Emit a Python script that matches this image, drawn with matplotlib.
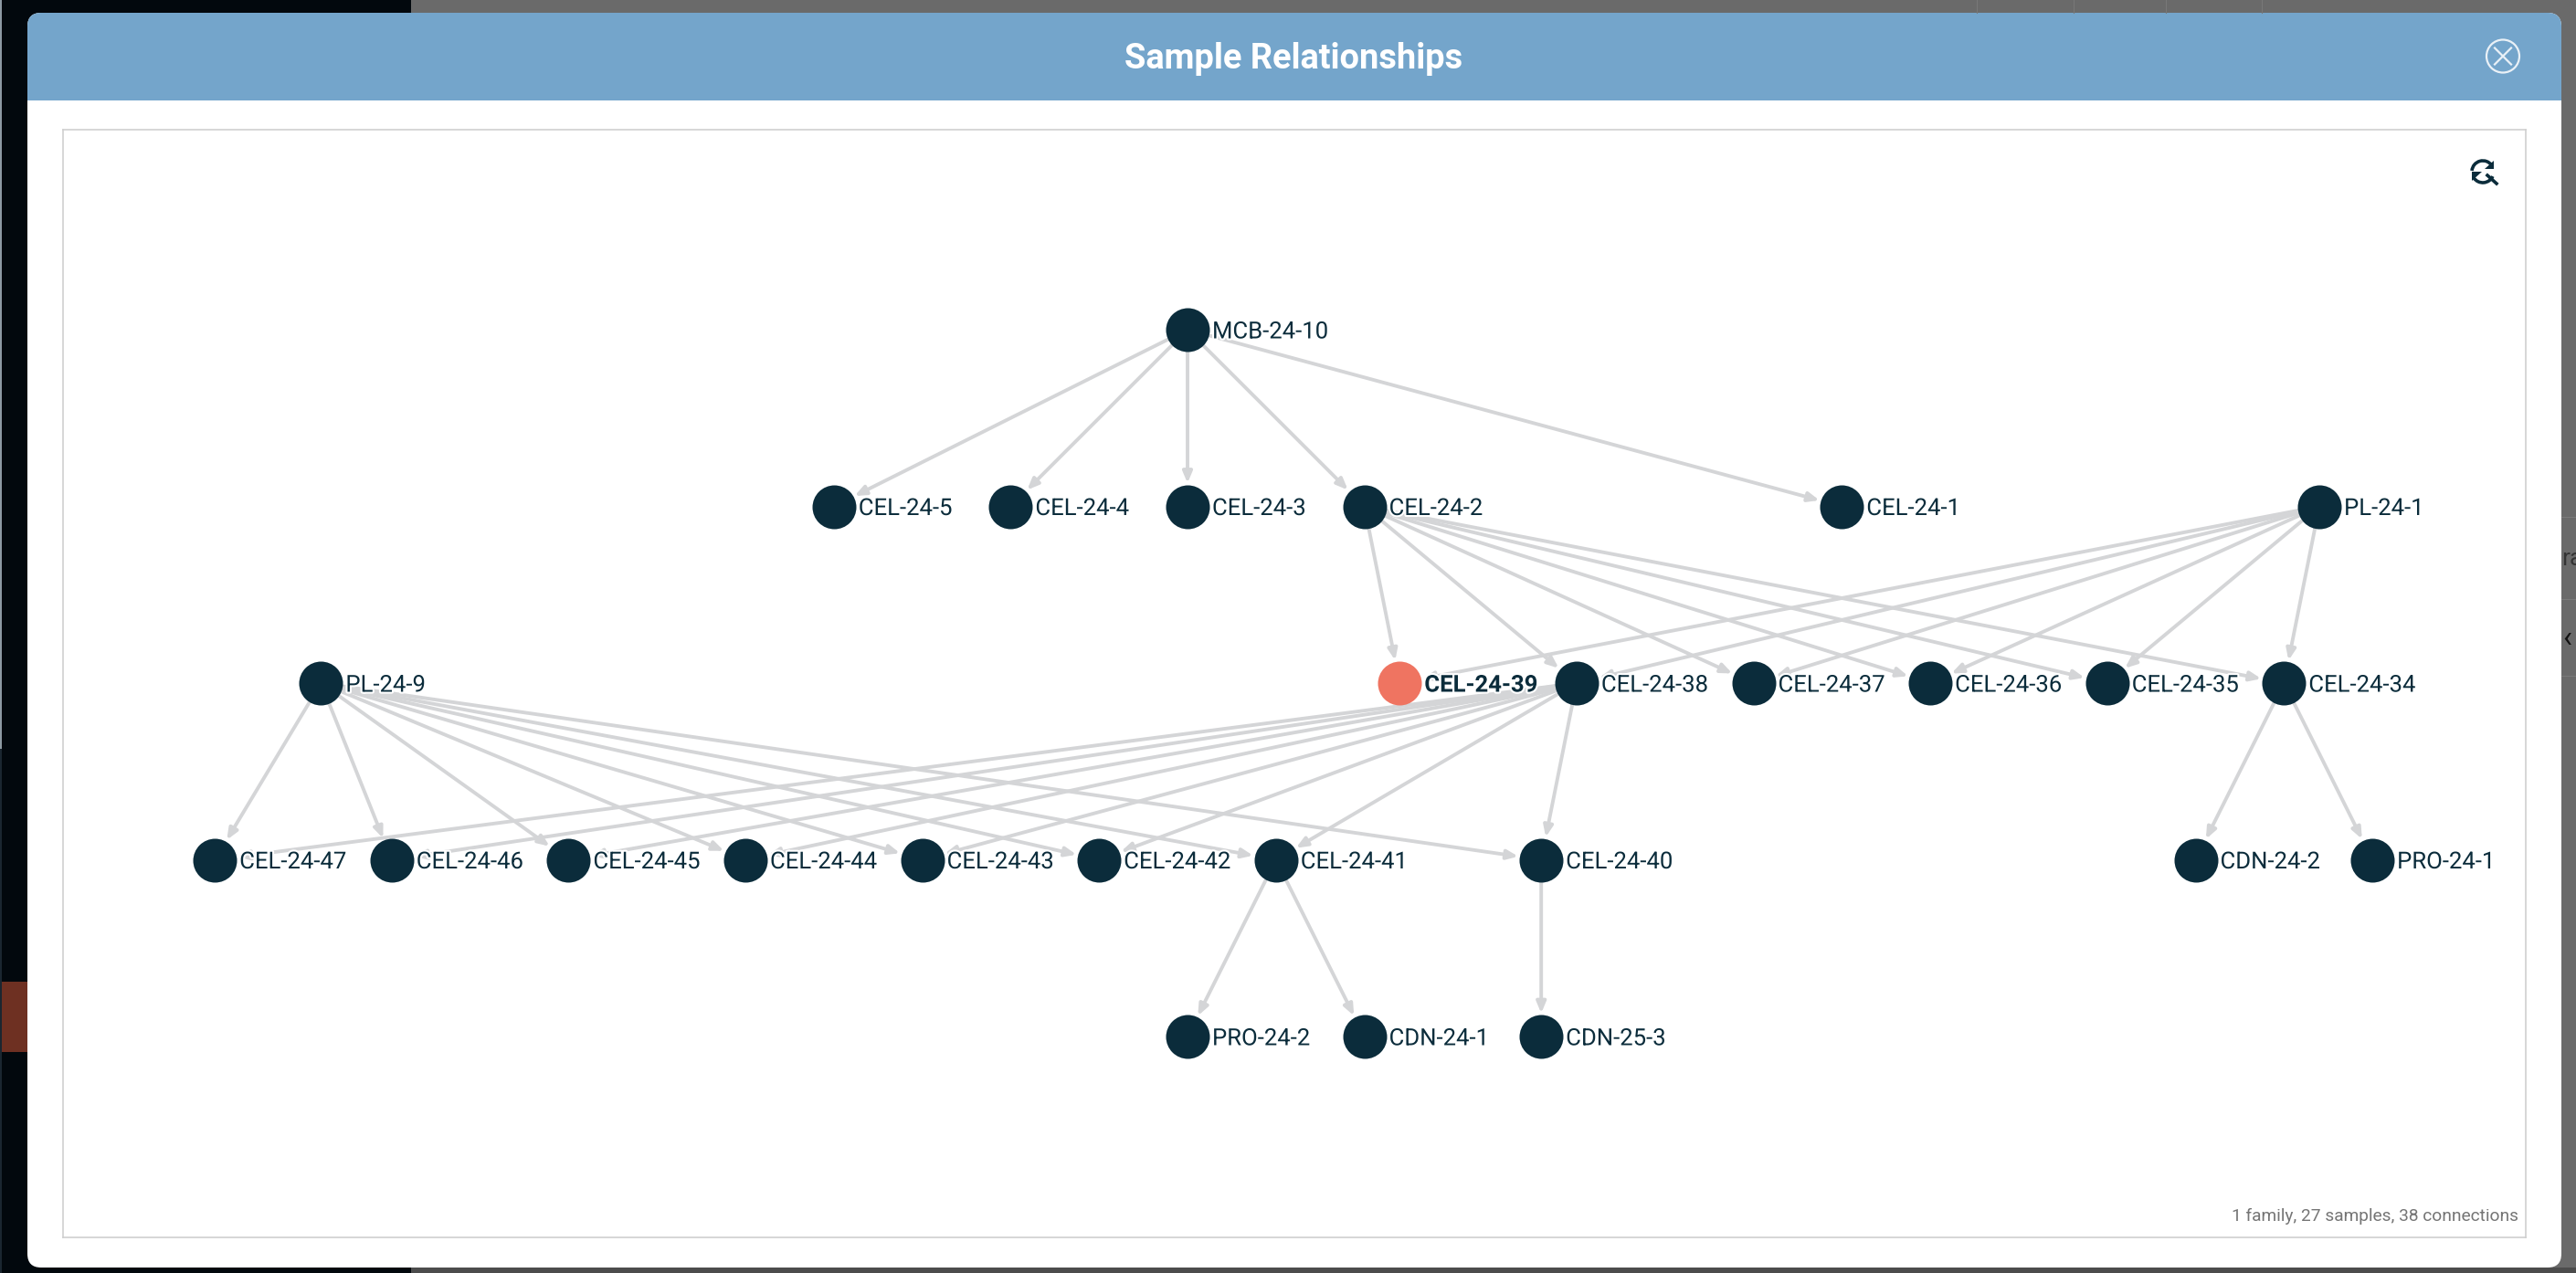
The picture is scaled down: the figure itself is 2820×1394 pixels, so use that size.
import matplotlib
matplotlib.use('Agg')
import matplotlib.pyplot as plt
import matplotlib.patheffects as pe
from matplotlib.patches import Rectangle, FancyBboxPatch, Circle, Arc, Polygon

plt.rcParams['font.family'] = ['Roboto', 'DejaVu Sans']

# nodes: name, column and rank on the layout grid
node_names = ['MCB-24-10',
              'CEL-24-5', 'CEL-24-4', 'CEL-24-3', 'CEL-24-2', 'CEL-24-1', 'PL-24-1',
              'PL-24-9', 'CEL-24-39', 'CEL-24-38', 'CEL-24-37', 'CEL-24-36', 'CEL-24-35', 'CEL-24-34',
              'CEL-24-47', 'CEL-24-46', 'CEL-24-45', 'CEL-24-44', 'CEL-24-43', 'CEL-24-42', 'CEL-24-41',
              'CEL-24-40', 'CDN-24-2', 'PRO-24-1',
              'PRO-24-2', 'CDN-24-1', 'CDN-25-3']
node_cols = [0,
             -2, -1, 0, 1, 3.7, 6.4,
             -4.9, 1.2, 2.2, 3.2, 4.2, 5.2, 6.2,
             -5.5, -4.5, -3.5, -2.5, -1.5, -0.5, 0.5,
             2, 5.7, 6.7,
             0, 1, 2]
node_ranks = [0,
              1, 1, 1, 1, 1, 1,
              2, 2, 2, 2, 2, 2, 2,
              3, 3, 3, 3, 3, 3, 3,
              3, 3, 3,
              4, 4, 4]
selected = 'CEL-24-39'

lower = ['CEL-24-47', 'CEL-24-46', 'CEL-24-45', 'CEL-24-44', 'CEL-24-43', 'CEL-24-42', 'CEL-24-41', 'CEL-24-40']
middle = ['CEL-24-39', 'CEL-24-38', 'CEL-24-37', 'CEL-24-36', 'CEL-24-35', 'CEL-24-34']
edges = {
    'MCB-24-10': ['CEL-24-5', 'CEL-24-4', 'CEL-24-3', 'CEL-24-2', 'CEL-24-1'],
    'CEL-24-2': middle,
    'PL-24-1': middle,
    'PL-24-9': lower,
    'CEL-24-38': lower,
    'CEL-24-41': ['PRO-24-2', 'CDN-24-1'],
    'CEL-24-40': ['CDN-25-3'],
    'CEL-24-34': ['CDN-24-2', 'PRO-24-1'],
}

title = 'Sample Relationships'
footer = '1 family, 27 samples, 38 connections'

NAVY = '#0b2c3b'
EDGE = '#d4d5d7'
CORAL = '#ef7461'
W, H = 2820, 1394

fig = plt.figure(figsize=(W / 100, H / 100), dpi=100)

# page behind the dialog, in pixel coordinates
bg = fig.add_axes([0, 0, 1, 1])
bg.set_xlim(0, W)
bg.set_ylim(H, 0)
bg.axis('off')
bg.add_patch(Rectangle((0, 0), 450, H, color='#02080d', lw=0))
bg.add_patch(Rectangle((450, 0), W - 450, H, color='#6a6a6a', lw=0))
bg.add_patch(Rectangle((450, 1388), W - 450, 6, color='#4c4c4c', lw=0))
bg.add_patch(Rectangle((0, 0), 2, 820, color='#8d9aa2', lw=0))
bg.add_patch(Rectangle((0, 820), 2, H - 820, color='#1b2630', lw=0))
bg.add_patch(Rectangle((2, 1075), 28, 77, color='#6e3022', lw=0))
for xv in [2164, 2270, 2371, 2476]:
    bg.plot([xv, xv], [0, 14], color='#787878', lw=0.8)
for yv in [566, 656, 740]:
    bg.plot([2804, W], [yv, yv], color='#7a7a7a', lw=0.8)
bg.text(2804, 612, 'rag', color='#333333', fontsize=19, va='center', ha='left', clip_on=True)
bg.text(2805, 700, '‹', color='#111111', fontsize=24, va='center', ha='left', clip_on=True)

# dialog
bg.add_patch(FancyBboxPatch((30, 14), 2774, 1374, boxstyle='round,pad=0,rounding_size=15',
                            fc='white', ec='none'))
hdr = FancyBboxPatch((30, 14), 2774, 200, boxstyle='round,pad=0,rounding_size=15',
                     fc='#74a5cb', ec='none')
bg.add_patch(hdr)
bg.add_patch(Rectangle((30, 110), 2774, 110, color='white', lw=0))
bg.text(1416, 64.5, title, color='white', fontsize=27.4, fontweight='bold', ha='center', va='center')

# close button
bg.add_patch(Circle((2740, 61.5), 18, fc='none', ec='#eaf1f7', lw=1.6))
bg.plot([2731, 2749], [52.5, 70.5], color='#eaf1f7', lw=1.6)
bg.plot([2731, 2749], [70.5, 52.5], color='#eaf1f7', lw=1.6)

# reset zoom icon
bg.add_patch(Arc((2718, 188), 24, 24, theta1=185, theta2=325, color=NAVY, lw=2.6))
bg.add_patch(Arc((2718, 188), 24, 24, theta1=25, theta2=145, color=NAVY, lw=2.6))
bg.add_patch(Polygon([[2730, 176], [2730, 185], [2720, 185]], color=NAVY, lw=0))
bg.add_patch(Polygon([[2706, 188], [2706, 198], [2717, 188]], color=NAVY, lw=0))
bg.plot([2723, 2733], [192, 201], color=NAVY, lw=2.6)

# graph area
x0, x1, y0, y1 = 69, 2765, 142, 1355
ax = fig.add_axes([x0 / W, 1 - y1 / H, (x1 - x0) / W, (y1 - y0) / H])
ax.patch.set_alpha(0)
ax.set_xlim((x0 - 1300) / 193.6, (x1 - 1300) / 193.6)
ax.set_ylim((y1 - 361) / 193.5, (y0 - 361) / 193.5)
ax.set_xticks([])
ax.set_yticks([])
for s in ax.spines.values():
    s.set_color('#cfcfcf')
    s.set_linewidth(1.2)

pos = dict(zip(node_names, zip(node_cols, node_ranks)))
R_PT = 24 * 0.72

for src, targets in edges.items():
    for tgt in targets:
        ax.annotate('', xy=pos[tgt], xytext=pos[src],
                    arrowprops=dict(arrowstyle='-|>,head_length=0.72,head_width=0.3',
                                    mutation_scale=10, color=EDGE, lw=2.8,
                                    shrinkA=R_PT - 1, shrinkB=R_PT + 1), zorder=1)

for name in node_names:
    c, r = pos[name]
    ax.scatter([c], [r], s=(2 * R_PT) ** 2, color=CORAL if name == selected else NAVY,
               linewidths=0, zorder=3)
    ax.annotate(name, xy=(c, r), xytext=(27 * 0.72, -1.8), textcoords='offset points',
                color=NAVY, fontsize=18.5, va='center', ha='left',
                fontweight='bold' if name == selected else 'normal', zorder=4,
                path_effects=[pe.withStroke(linewidth=3, foreground='white')])

ax.annotate(footer, xy=(1, 0), xycoords='axes fraction', xytext=(-8 * 0.72, 14 * 0.72),
            textcoords='offset points', color='#757575', fontsize=13.75, ha='right', va='bottom')

fig.savefig('out.png', dpi=100)
